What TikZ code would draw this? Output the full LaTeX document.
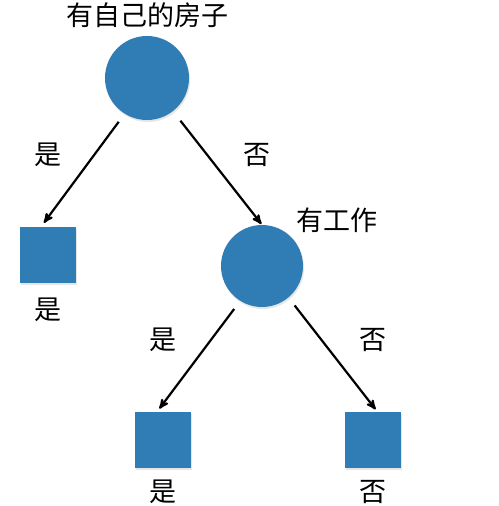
\documentclass[tikz,border=0pt]{standalone}
\usepackage{fontspec}
\newfontfamily\cjk{Noto Sans CJK SC}
\usetikzlibrary{arrows,positioning,shadows}

\definecolor{leafblue}{RGB}{47,125,180}

\begin{document}
\begin{tikzpicture}
    [x=1pt, y=-1pt,
    decision/.style={
        circle,
        fill=leafblue,
        inner sep=0pt,
        minimum size=#1,
        drop shadow={shadow xshift=1pt,shadow yshift=-2pt,opacity=0.2}
    },
    decision/.default={84pt},
    leaf/.style={
        rectangle,
        fill=leafblue,
        inner sep=0pt,
        minimum size=56pt,
        drop shadow={shadow xshift=1pt,shadow yshift=-2pt,opacity=0.2}
    },
    word/.style={font=\cjk\fontsize{27}{27}\selectfont, inner sep=0pt},
    arrow/.style={>=stealth',->,line width=2.2pt}]

    \useasboundingbox (0,0) rectangle (498,506);

    %%% content
    \node (house) [decision] at (147,78) {};
    \node (houseText) [word] at (147,15) {有自己的房子};

    \node (yesHouse) [leaf] at (48,255) {};
    \node (yesHouseText) [word] at (48,310) {是};

    \node (job) [decision={82pt}] at (262,266) {};
    \node (jobText) [word] at (337,220) {有工作};

    \node (yesJob) [leaf] at (163,440) {};
    \node (yesJobText) [word] at (163,492) {是};

    \node (noJob) [leaf] at (373,440) {};
    \node (noJobText) [word] at (373,492) {否};

    %% lines
    \draw[arrow, shorten <=10pt, shorten >=5pt] (house.238) -- (yesHouse.104);
    \draw[arrow, shorten <=12pt, shorten >=1pt] (house.308) -- (job.north);
    \draw[arrow, shorten <=10pt, shorten >=4pt] (job.238) -- (yesJob.102);
    \draw[arrow, shorten <=10pt, shorten >=3pt] (job.310) -- (noJob.81);

    %% edge labels
    \node (houseYes) [word] at (48,155) {是};
    \node (houseNo) [word] at (257,155) {否};
    \node (jobYes) [word] at (163,340) {是};
    \node (jobNo) [word] at (373,340) {否};
\end{tikzpicture}
\end{document}
